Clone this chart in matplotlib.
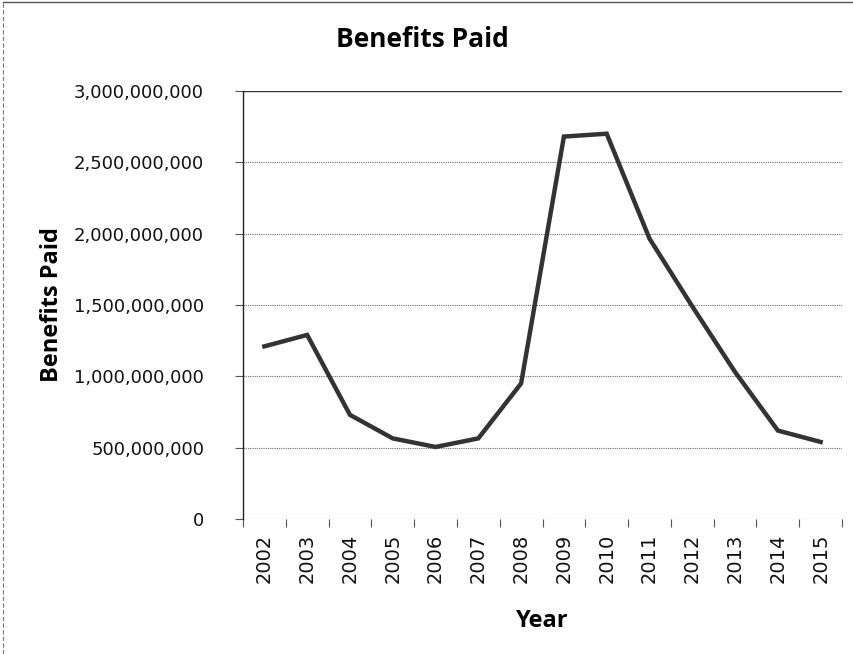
import matplotlib
matplotlib.use("Agg")
import matplotlib.pyplot as plt
from matplotlib.ticker import FuncFormatter, MultipleLocator, FixedLocator
from matplotlib.lines import Line2D

years = ["2002", "2003", "2004", "2005", "2006", "2007", "2008",
         "2009", "2010", "2011", "2012", "2013", "2014", "2015"]
benefits_paid = [1.21e9, 1.29e9, 0.73e9, 0.565e9, 0.505e9, 0.565e9, 0.95e9,
                 2.68e9, 2.70e9, 1.965e9, 1.49e9, 1.03e9, 0.62e9, 0.54e9]

fig = plt.figure(figsize=(8.54, 6.54), dpi=100)
fig.patch.set_facecolor("white")

ax = fig.add_axes([0.2845, 0.2064, 0.7015, 0.6546])
x = list(range(len(years)))
ax.plot(x, benefits_paid, color="#333333", linewidth=3.2,
        solid_joinstyle="miter", zorder=3)

ax.set_xlim(-0.5, len(years) - 0.5)
ax.set_ylim(0, 3.0e9)
ax.yaxis.set_major_locator(MultipleLocator(5e8))
ax.yaxis.set_major_formatter(FuncFormatter(lambda v, p: f"{int(round(v)):,}"))

ax.set_xticks(x)
ax.set_xticklabels(years, rotation=90)
ax.xaxis.set_minor_locator(FixedLocator([i - 0.5 for i in range(len(years) + 1)]))
ax.tick_params(axis="x", which="major", length=0, pad=10.5, labelsize=14)
ax.tick_params(axis="x", which="minor", length=6, width=0.8, color="#555555",
               direction="out")
ax.tick_params(axis="y", which="major", length=6, width=0.8, color="#555555",
               labelsize=13, pad=22)

ax.grid(axis="y", color="#6a6a6a", linewidth=0.8, linestyle=(0, (1, 1)))
ax.set_axisbelow(True)
for s in ["top", "right", "bottom"]:
    ax.spines[s].set_visible(False)
ax.spines["left"].set_color("#222222")
ax.spines["left"].set_linewidth(1.0)
ax.axhline(3.0e9, color="#333333", linewidth=1.0, zorder=1)

for lbl in ax.get_xticklabels() + ax.get_yticklabels():
    lbl.set_color("#111111")

ax.set_ylabel("Benefits Paid", fontsize=17, fontweight="bold",
              family="Open Sans", labelpad=7)
ax.set_xlabel("Year", fontsize=17, fontweight="bold", family="Open Sans",
              labelpad=19)
fig.text(0.494, 0.928, "Benefits Paid", ha="center", va="baseline",
         fontsize=19, fontweight="bold", family="Open Sans")

# outer chart frame (top and left edges)
fig.add_artist(Line2D([0.004, 1.0], [0.997, 0.997], transform=fig.transFigure,
                      color="#555555", linewidth=1.0))
fig.add_artist(Line2D([0.004, 0.004], [0.0, 0.997], transform=fig.transFigure,
                      color="#777777", linewidth=0.8, linestyle=(0, (4, 2))))

fig.savefig("out.png", dpi=100)
